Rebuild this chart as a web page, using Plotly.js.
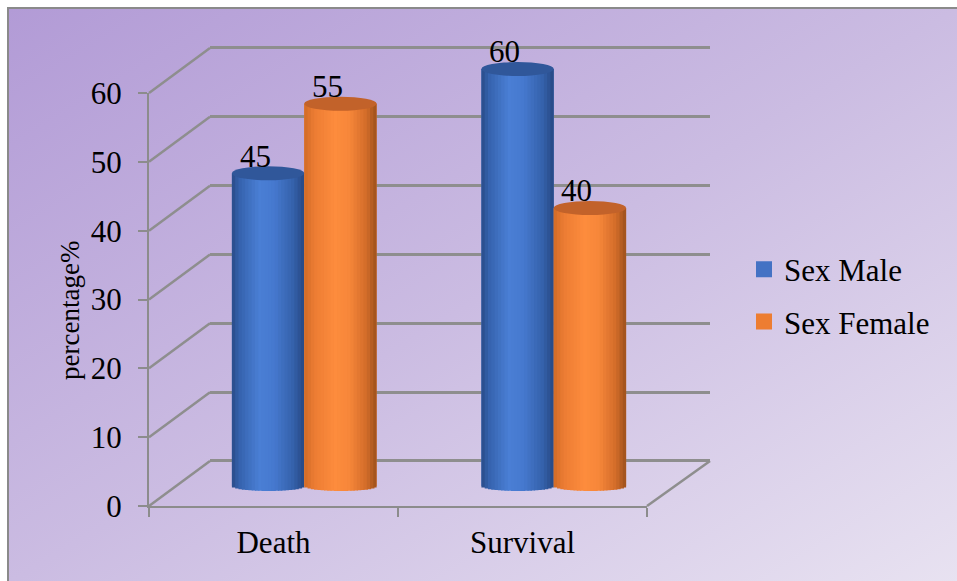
<!DOCTYPE html>
<html>
<head>
<meta charset="utf-8">
<script src="https://cdn.plot.ly/plotly-3.0.1.min.js"></script>
<style>
  html, body { margin: 0; padding: 0; background: #ffffff; }
  #wrap { position: relative; width: 957px; height: 581px; overflow: hidden; }
  #bg { position: absolute; left: 7px; top: 7px; width: 950px; height: 574px;
        border-top: 2px solid #8a8a8a; border-left: 2px solid #8a8a8a;
        background: linear-gradient(to bottom right, #b29bd6 0%, #cbbce2 50%, #e8e2f1 100%); }
  #chart { position: absolute; left: 0; top: 0; width: 957px; height: 581px; }
</style>
</head>
<body>
<div id="wrap"><div id="bg"></div><div id="chart"></div></div>
<script>
// ---- data ----
const categories = ['Death', 'Survival'];
const maleValues = [45, 60];
const femaleValues = [55, 40];
const seriesNames = ['Sex Male', 'Sex Female'];
const yTicks = [0, 10, 20, 30, 40, 50, 60];

// ---- geometry / style ----
const W = 957, H = 581;
const YMAX = 60;
// pixel positions of value 0 and value 60 on each plane, plus range padding (in value units)
const FRONT = {x0: 149, x1: 647, y0: 506, y60: 93, lo: 0, hi: 60};
const MID   = {x0: 179.5, x1: 678.5, y0: 486, y60: 69, lo: -3, hi: 63};
const BACK  = {x0: 210, x1: 710, y0: 461, y60: 48, lo: -1, hi: 61};
function pyAt(g, v) { return g.y0 + (g.y60 - g.y0) * v / YMAX; }
function dx(g) { return [g.x0 / W, g.x1 / W]; }
function dy(g) { return [1 - pyAt(g, g.lo) / H, 1 - pyAt(g, g.hi) / H]; }

const FONT = 'Liberation Serif, Times New Roman, serif';
const GRID = '#8e8e8e';
const BAR_W = 0.29;
const OFFSETS = [-BAR_W, 0];
const LEGEND_COLORS = ['#4472c4', '#ed7d31'];
const CAP_COLORS = ['#30579a', '#c2622a'];
const STOPS = [
  [[0, '#294b88'], [0.1, '#3562ad'], [0.38, '#4a7fd5'], [0.58, '#4679cf'], [0.85, '#3461ab'], [1, '#274883']],
  [[0, '#d06b27'], [0.14, '#ec7c33'], [0.42, '#fd8c3d'], [0.62, '#f7873a'], [0.86, '#d26c29'], [1, '#9c511c']]
];
const NSTRIP = 22;
const BOTTOM_RY_PX = 5;
const TOP_RY_PX = 7;

function hex2rgb(h) { return [1, 3, 5].map(i => parseInt(h.substr(i, 2), 16)); }
function colorAt(stops, t) {
  for (let i = 1; i < stops.length; i++) {
    if (t <= stops[i][0]) {
      const a = stops[i - 1], b = stops[i];
      const f = (t - a[0]) / (b[0] - a[0]);
      const ca = hex2rgb(a[1]), cb = hex2rgb(b[1]);
      const c = ca.map((v, k) => Math.round(v + (cb[k] - v) * f));
      return 'rgb(' + c.join(',') + ')';
    }
  }
  return stops[stops.length - 1][1];
}

const seriesValues = [maleValues, femaleValues];
const unitsPerPx = YMAX / (MID.y0 - MID.y60);
const traces = [];

// dummy traces so every subplot exists
traces.push({type: 'scatter', x: [null], y: [null], xaxis: 'x', yaxis: 'y', showlegend: false, hoverinfo: 'skip'});
traces.push({type: 'scatter', x: categories, y: [null, null], xaxis: 'x2', yaxis: 'y2', showlegend: false, hoverinfo: 'skip'});

// bars (cylinders: base bar + shaded strips with rounded bottom)
seriesValues.forEach((vals, s) => {
  traces.push({
    type: 'bar', name: seriesNames[s], x: categories, y: vals,
    xaxis: 'x3', yaxis: 'y3', offset: OFFSETS[s], width: BAR_W,
    marker: {color: LEGEND_COLORS[s], line: {width: 0}}, showlegend: false
  });
  const sw = BAR_W / NSTRIP;
  for (let j = 0; j < NSTRIP; j++) {
    const t = (j + 0.5) / NSTRIP;
    const u = 2 * t - 1;
    const e = BOTTOM_RY_PX * unitsPerPx * Math.sqrt(Math.max(0, 1 - u * u));
    traces.push({
      type: 'bar', x: categories, y: vals.map(v => v + e), base: vals.map(() => -e),
      xaxis: 'x3', yaxis: 'y3', offset: OFFSETS[s] + j * sw, width: sw * (j === NSTRIP - 1 ? 1 : 1.35),
      marker: {color: colorAt(STOPS[s], t), line: {width: 0}},
      showlegend: false, hoverinfo: 'skip'
    });
  }
});

// legend proxies
seriesNames.forEach((n, s) => {
  traces.push({
    type: 'scatter', mode: 'markers', name: n, x: [null], y: [null], xaxis: 'x2', yaxis: 'y2',
    legendgroup: 'g' + s,
    marker: {symbol: 'square', size: 16, color: LEGEND_COLORS[s], line: {width: 0}}
  });
});

// shapes: left wall diagonals, floor right edge, top caps
const shapes = [];
yTicks.forEach(v => {
  shapes.push({type: 'line', xref: 'paper', yref: 'paper', layer: 'below',
    x0: FRONT.x0 / W, y0: 1 - pyAt(FRONT, v) / H, x1: BACK.x0 / W, y1: 1 - pyAt(BACK, v) / H,
    line: {color: GRID, width: 2.5}});
});
shapes.push({type: 'line', xref: 'paper', yref: 'paper', layer: 'below',
  x0: FRONT.x1 / W, y0: 1 - pyAt(FRONT, 0) / H, x1: BACK.x1 / W, y1: 1 - pyAt(BACK, 0) / H,
  line: {color: GRID, width: 2.5}});
seriesValues.forEach((vals, s) => {
  vals.forEach((v, i) => {
    shapes.push({type: 'circle', xref: 'x3', yref: 'y3', layer: 'above',
      x0: i + OFFSETS[s], x1: i + OFFSETS[s] + BAR_W,
      ysizemode: 'pixel', yanchor: v, y0: -TOP_RY_PX, y1: TOP_RY_PX,
      fillcolor: CAP_COLORS[s], line: {width: 0}});
  });
});

// data labels + y axis title
const annotations = [];
seriesValues.forEach((vals, s) => {
  vals.forEach((v, i) => {
    annotations.push({xref: 'x3', yref: 'y3', x: i + OFFSETS[s] + BAR_W / 2, y: v,
      xshift: -13, yshift: 17, yanchor: 'middle', xanchor: 'center', showarrow: false,
      text: String(v), font: {family: FONT, size: 31, color: '#000'}});
  });
});
annotations.push({xref: 'paper', yref: 'paper', x: 70 / W, y: 1 - 311 / H,
  xanchor: 'center', yanchor: 'middle', textangle: -90, showarrow: false,
  text: 'percentage%', font: {family: FONT, size: 27, color: '#000'}});

const layout = {
  width: W, height: H, margin: {l: 0, r: 0, t: 0, b: 0},
  paper_bgcolor: 'rgba(0,0,0,0)', plot_bgcolor: 'rgba(0,0,0,0)',
  barmode: 'overlay', hovermode: false,
  font: {family: FONT, color: '#000'},
  xaxis: {domain: dx(BACK), anchor: 'y', range: [0, 1], visible: false, fixedrange: true},
  yaxis: {domain: dy(BACK), anchor: 'x', range: [BACK.lo, BACK.hi], tickvals: yTicks, showticklabels: false,
    ticks: '', showgrid: true, gridcolor: GRID, gridwidth: 3, zeroline: true, zerolinecolor: GRID,
    zerolinewidth: 3, showline: false},
  xaxis2: {domain: dx(FRONT), anchor: 'y2', type: 'category', categoryarray: categories,
    range: [-0.5, 1.5], showline: true, linecolor: '#8c8c8c', linewidth: 2,
    ticks: 'outside', tickson: 'boundaries', ticklen: 9, tickwidth: 2, tickcolor: '#8c8c8c',
    ticklabelstandoff: 8,
    tickfont: {family: FONT, size: 31, color: '#000'}, showgrid: false, zeroline: false},
  yaxis2: {domain: dy(FRONT), anchor: 'x2', range: [FRONT.lo, FRONT.hi], tickvals: yTicks,
    showline: true, linecolor: '#8c8c8c', linewidth: 2, ticks: 'outside', ticklen: 9, tickwidth: 2,
    tickcolor: '#8c8c8c', tickfont: {family: FONT, size: 31, color: '#000'},
    showgrid: false, zeroline: false, ticklabelstandoff: 10},
  xaxis3: {domain: dx(MID), anchor: 'y3', type: 'category', categoryarray: categories,
    range: [-0.5, 1.5], visible: false},
  yaxis3: {domain: dy(MID), anchor: 'x3', range: [MID.lo, MID.hi], visible: false},
  showlegend: true,
  legend: {x: 744 / W, y: 1 - 295.5 / H, xanchor: 'left', yanchor: 'middle',
    bgcolor: 'rgba(0,0,0,0)', traceorder: 'grouped', tracegroupgap: 9,
    font: {family: FONT, size: 31, color: '#000'}},
  shapes: shapes, annotations: annotations
};

Plotly.newPlot('chart', traces, layout, {staticPlot: true, displayModeBar: false});
</script>
</body>
</html>
